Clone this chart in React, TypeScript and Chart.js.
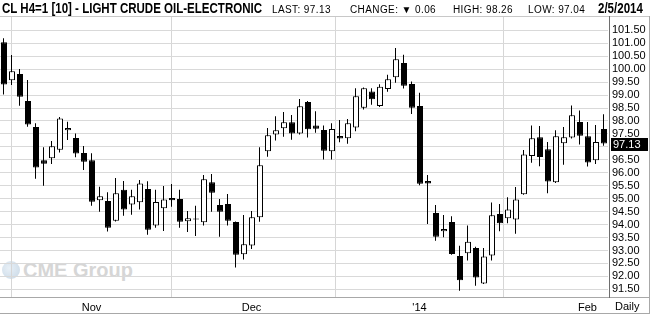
import React, { useEffect, useRef } from "react";
import { Chart, registerables } from "chart.js";

Chart.register(...registerables);

// Trading days (Oct 17 2013 .. Feb 5 2014)
const dates = [
  "10/17", "10/18", "10/21", "10/22", "10/23", "10/24", "10/25", "10/28", "10/29", "10/30", "10/31",
  "11/1", "11/4", "11/5", "11/6", "11/7", "11/8", "11/11", "11/12", "11/13", "11/14", "11/15",
  "11/18", "11/19", "11/20", "11/21", "11/22", "11/25", "11/26", "11/27", "11/29",
  "12/2", "12/3", "12/4", "12/5", "12/6", "12/9", "12/10", "12/11", "12/12", "12/13",
  "12/16", "12/17", "12/18", "12/19", "12/20", "12/23", "12/24", "12/26", "12/27", "12/30", "12/31",
  "1/2", "1/3", "1/6", "1/7", "1/8", "1/9", "1/10", "1/13", "1/14", "1/15", "1/16", "1/17",
  "1/21", "1/22", "1/23", "1/24", "1/27", "1/28", "1/29", "1/30", "1/31",
  "2/3", "2/4", "2/5",
];

const opens = [
  101.04, 99.57, 99.81, 98.77, 97.77, 96.48, 96.56, 96.89, 97.64, 97.34, 96.76,
  96.48, 94.94, 94.91, 94.15, 95.34, 94.78, 94.86, 95.37, 93.96, 94.63,
  95.03, 94.99, 94.13, 94.23, 94.09, 95.63, 94.76, 94.79, 94.10, 92.85,
  93.19, 94.28, 96.83, 97.48, 97.72, 97.95, 97.52, 98.73, 97.83, 97.65,
  96.83, 97.42, 97.33, 97.75, 98.51, 99.14, 98.58, 99.23, 99.69, 100.24, 99.43,
  98.58, 95.68, 94.45, 93.74, 94.10, 92.79, 92.89, 93.10, 91.73, 92.81, 94.41, 94.24,
  94.20, 95.17, 96.65, 97.37, 96.91, 95.63, 97.14, 97.36, 97.96,
  97.41, 96.48, 97.69,
];
const highs = [
  101.19, 100.55, 100.01, 99.58, 97.91, 96.99, 97.23, 98.15, 97.97, 97.52, 97.03,
  96.75, 95.46, 95.25, 95.80, 95.68, 95.34, 95.72, 95.67, 95.34, 95.49,
  95.57, 95.34, 94.52, 94.73, 95.91, 95.95, 94.99, 95.18, 94.12, 94.37,
  94.52, 96.99, 97.73, 98.18, 98.35, 98.23, 98.85, 98.77, 98.38, 97.83,
  97.91, 98.04, 98.08, 99.26, 99.29, 99.26, 99.42, 99.78, 100.82, 100.56, 99.52,
  99.09, 95.91, 94.76, 94.37, 94.32, 93.18, 93.96, 93.14, 93.10, 94.85, 94.79, 95.06,
  95.45, 96.88, 97.83, 97.81, 97.19, 97.64, 97.77, 98.60, 98.40,
  97.96, 97.84, 98.26,
];
const lows = [
  99.02, 99.39, 98.59, 97.78, 95.77, 95.50, 96.34, 96.78, 97.27, 96.60, 96.11,
  94.73, 94.50, 93.73, 94.12, 94.34, 94.38, 94.58, 93.61, 93.88, 93.75,
  94.69, 93.88, 93.71, 93.56, 93.96, 94.50, 93.53, 93.96, 92.34, 92.65,
  93.06, 94.11, 96.62, 97.25, 97.39, 97.28, 97.48, 97.36, 97.55, 96.51,
  96.51, 97.18, 97.12, 97.60, 98.44, 98.63, 98.54, 99.13, 99.48, 99.25, 98.27,
  95.52, 94.02, 93.38, 93.51, 92.84, 91.45, 92.61, 91.64, 91.71, 92.61, 93.74, 94.05,
  93.65, 95.15, 96.39, 96.25, 95.21, 95.61, 96.31, 97.32, 97.09,
  96.24, 96.34, 97.04,
];
const closes = [
  99.41, 99.92, 98.94, 97.86, 96.20, 96.35, 97.02, 98.10, 97.73, 96.74, 96.43,
  94.88, 95.09, 93.88, 95.21, 94.58, 95.09, 95.59, 93.80, 94.87, 94.97,
  94.94, 94.11, 94.24, 94.20, 95.75, 95.23, 94.50, 94.15, 92.84, 93.24,
  94.28, 96.29, 97.45, 97.64, 97.95, 97.52, 98.57, 97.68, 97.70, 96.85,
  97.69, 97.32, 97.91, 98.95, 99.26, 98.84, 99.32, 99.61, 100.38, 99.36, 98.51,
  95.58, 95.59, 93.53, 93.83, 92.86, 91.85, 93.34, 91.96, 92.77, 94.36, 94.05, 94.58,
  94.97, 96.71, 97.33, 96.61, 95.66, 97.41, 97.37, 98.22, 97.43,
  96.40, 97.19, 97.13,
];

const monthTickDates = ["11/1", "12/2", "1/2", "2/3"];
const monthTickLabels = ["Nov", "Dec", "'14", "Feb"];
const priceTicks = [
  91.5, 92.0, 92.5, 93.0, 93.5, 94.0, 94.5, 95.0, 95.5, 96.0, 96.5,
  97.0, 97.5, 98.0, 98.5, 99.0, 99.5, 100.0, 100.5, 101.0, 101.5,
];
const yMin = 91.204;
const yMax = 102.053;
const lastPrice = 97.13;

const FONT = "'Liberation Sans', Arial, sans-serif";

const overlayPlugin = {
  id: "overlay",
  afterDraw(chart: any) {
    const { ctx, chartArea, scales } = chart;
    const top = Math.round(chartArea.top);
    const bottom = Math.round(chartArea.bottom);
    const right = Math.round(chartArea.right);
    ctx.save();
    ctx.lineWidth = 1;
    const line = (x1: number, y1: number, x2: number, y2: number, c: string) => {
      ctx.strokeStyle = c;
      ctx.beginPath();
      ctx.moveTo(x1, y1);
      ctx.lineTo(x2, y2);
      ctx.stroke();
    };
    line(0, top + 0.5, 650, top + 0.5, "#c8c8c8");
    line(0, bottom + 0.5, 650, bottom + 0.5, "#a8a8a8");
    line(0, 313.5, 650, 313.5, "#a8a8a8");
    line(right + 1.5, top, right + 1.5, bottom + 1, "#6e6e6e");
    line(649.5, top, 649.5, 314, "#a8a8a8");
    const y = Math.round(scales.y.getPixelForValue(lastPrice));
    ctx.fillStyle = "#000";
    ctx.fillRect(right + 3, y - 6, 37, 13);
    ctx.fillStyle = "#fff";
    ctx.font = "11px " + FONT;
    ctx.textBaseline = "middle";
    ctx.textAlign = "left";
    ctx.fillText(lastPrice.toFixed(2), right + 5, y + 1);
    ctx.restore();
  },
};

export default function App() {
  const ref = useRef<HTMLCanvasElement | null>(null);
  useEffect(() => {
    const bodyColors = opens.map((o, i) => (closes[i] >= o ? "#ffffff" : "#000000"));
    const monthIdx = monthTickDates.map((d) => dates.indexOf(d));
    const chart = new Chart(ref.current as HTMLCanvasElement, {
      type: "bar",
      data: {
        labels: dates,
        datasets: [
          {
            label: "body",
            xAxisID: "x",
            data: opens.map((o, i) => [Math.min(o, closes[i]), Math.max(o, closes[i])]) as any,
            backgroundColor: bodyColors,
            borderColor: "#000000",
            borderWidth: 1,
            borderSkipped: false,
            barThickness: 6,
            inflateAmount: 0,
            grouped: false,
            order: 0,
          } as any,
          {
            label: "wick",
            xAxisID: "xw",
            data: lows.map((l, i) => ({ x: i, y: [l, highs[i]] })) as any,
            backgroundColor: "#000000",
            borderWidth: 0,
            barThickness: 1,
            inflateAmount: 0,
            grouped: false,
            order: 1,
          } as any,
        ],
      },
      options: {
        animation: false,
        responsive: false,
        maintainAspectRatio: false,
        events: [],
        layout: { padding: { top: 16, left: 0, right: 0, bottom: 0 } },
        plugins: {
          legend: { display: false },
          tooltip: { enabled: false },
          title: { display: false },
        },
        scales: {
          x: {
            type: "category",
            display: false,
            offset: true,
            grid: { display: false },
          } as any,
          xw: {
            type: "linear",
            position: "bottom",
            min: -0.4375,
            max: 75.5625,
            offset: false,
            grid: { drawTicks: false, lineWidth: 1, color: "#d6d6d6" },
            border: { display: false },
            ticks: {
              autoSkip: false,
              maxRotation: 0,
              minRotation: 0,
              padding: 4,
              color: "#000000",
              font: { family: FONT, size: 11 },
              callback: (v: any) => {
                const k = monthIdx.indexOf(Math.round(Number(v)));
                return k >= 0 ? monthTickLabels[k] : "";
              },
            },
            afterBuildTicks: (s: any) => {
              s.ticks = monthIdx.map((v) => ({ value: v }));
            },
            afterFit: (s: any) => {
              s.height = 17;
            },
          } as any,
          y: {
            position: "right",
            min: yMin,
            max: yMax,
            grid: { color: "#d9d9d9", drawTicks: false, lineWidth: 1 },
            border: { display: false },
            ticks: {
              autoSkip: false,
              padding: 4,
              color: "#000000",
              font: { family: FONT, size: 11 },
              callback: (v: any) => Number(v).toFixed(2),
            },
            afterBuildTicks: (s: any) => {
              s.ticks = priceTicks.map((v) => ({ value: v }));
            },
            afterFit: (s: any) => {
              s.width = 42;
            },
          } as any,
        },
      },
      plugins: [overlayPlugin],
    });
    return () => chart.destroy();
  }, []);

  const small: React.CSSProperties = {
    position: "absolute",
    top: 4,
    fontFamily: FONT,
    fontSize: 10,
    color: "#000",
    whiteSpace: "nowrap",
    letterSpacing: 0.4,
  };
  const boldHead: React.CSSProperties = {
    position: "absolute",
    top: 0,
    fontFamily: FONT,
    fontWeight: "bold",
    fontSize: 14,
    color: "#000",
    whiteSpace: "nowrap",
    transform: "scaleX(0.823)",
    transformOrigin: "left top",
    lineHeight: "16px",
  };

  return (
    <div style={{ position: "fixed", left: 0, top: 0, width: 650, height: 314, background: "#fff", overflow: "hidden" }}>
      <div style={{ position: "absolute", left: 2, top: 259, display: "flex", alignItems: "center", zIndex: 0 }}>
        <div
          style={{
            width: 18,
            height: 18,
            borderRadius: 9,
            background: "radial-gradient(circle at 40% 40%, #e8f0f7, #c7d7e5)",
            marginRight: 3,
          }}
        />
        <span style={{ fontFamily: FONT, fontSize: 20, fontWeight: "bold", color: "#d6d6d6", lineHeight: "22px" }}>
          CME Group
        </span>
      </div>
      <canvas
        ref={ref}
        width={650}
        height={314}
        style={{ position: "absolute", left: 0, top: 0, width: 650, height: 314, zIndex: 1 }}
      />
      <div style={{ ...boldHead, left: 2, zIndex: 2 }}>CL H4=1 [10] - LIGHT CRUDE OIL-ELECTRONIC</div>
      <div style={{ ...small, left: 272, zIndex: 2 }}>LAST: 97.13</div>
      <div style={{ ...small, left: 350, zIndex: 2 }}>CHANGE: ▼ 0.06</div>
      <div style={{ ...small, left: 453, zIndex: 2 }}>HIGH: 98.26</div>
      <div style={{ ...small, left: 528, zIndex: 2 }}>LOW: 97.04</div>
      <div style={{ ...boldHead, left: 598, zIndex: 2 }}>2/5/2014</div>
      <div
        style={{
          position: "absolute",
          left: 615,
          top: 300,
          fontFamily: FONT,
          fontSize: 11,
          color: "#000",
          zIndex: 2,
        }}
      >
        Daily
      </div>
    </div>
  );
}
